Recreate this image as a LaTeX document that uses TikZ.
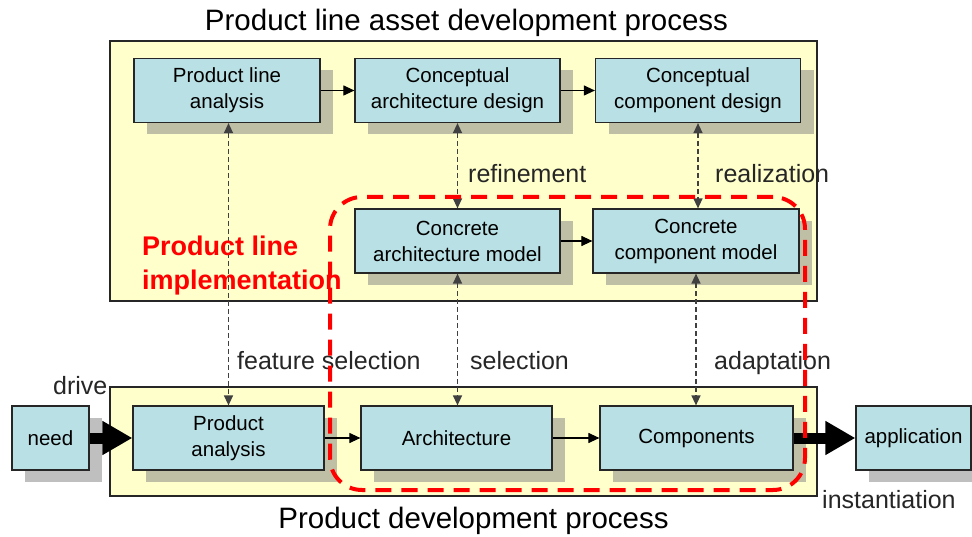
\documentclass[tikz,border=0pt]{standalone}
\usepackage{fontspec}
\setmainfont{Liberation Sans}
\usetikzlibrary{arrows.meta,shadows}
\definecolor{boxfill}{RGB}{185,224,228}
\definecolor{framefill}{RGB}{255,255,204}
\begin{document}
\begin{tikzpicture}[x=1pt,y=-1pt,
  frame/.style={draw=black!85, line width=1.2pt, fill=framefill, inner sep=0pt},
  box/.style={draw=black!85, line width=1.2pt, fill=boxfill, minimum height=64pt,
    align=center, inner sep=0pt, font=\fontsize{20.5}{26}\selectfont,
    drop shadow={shadow xshift=13pt, shadow yshift=-12pt, opacity=0.5, fill=black!50}},
  lbl/.style={font=\fontsize{25}{30}\selectfont, anchor=base west, inner sep=0pt, text=black!85},
  ttl/.style={font=\fontsize{29.5}{34}\selectfont, anchor=base, inner sep=0pt},
  thin/.style={-{Triangle[length=11pt,width=10pt]}, line width=1.1pt},
  dbl/.style={{Triangle[length=10pt,width=9pt]}-{Triangle[length=10pt,width=9pt]}, line width=1.3pt, dash pattern=on 5pt off 3pt, black!75},
  thick/.style={-{Triangle[length=30pt,width=32pt]}, line width=11pt},
  impl/.style={draw=red, line width=4pt, dash pattern=on 16pt off 10pt, rounded corners=32pt, inner sep=0pt}
]
\useasboundingbox (0,0) rectangle (972,537);

% frames
\node[frame, minimum width=707pt, minimum height=260pt] (topframe) at (463.5,171) {};
\node[frame, minimum width=707pt, minimum height=109pt] (botframe) at (463.5,441.5) {};

% titles
\node[ttl] (t1) at (466.5,31) {Product line asset development process};
\node[ttl] (t2) at (473.5,528) {Product development process};

% boxes top
\node[box, minimum width=186pt] (PLA) at (227,90.5) {Product line\\analysis};
\node[box, minimum width=205pt] (CAD) at (457.5,90.5) {Conceptual\\architecture design};
\node[box, minimum width=205pt] (CCD) at (698,90.5) {Conceptual\\component design};
\node[box, minimum width=205pt] (CAM) at (457.5,241) {Concrete\\architecture model};
\node[box, minimum width=206pt] (CCM) at (696,241) {Concrete\\component model};

% boxes bottom
\node[box, minimum width=77pt] (need) at (50.5,438) {need};
\node[box, minimum width=191pt] (PA) at (228.5,438) {Product\\analysis};
\node[box, minimum width=191pt] (Arch) at (456.5,438) {Architecture};
\node[box, minimum width=193pt] (Comp) at (696.5,438) {Components};
\node[box, minimum width=115pt] (app) at (913.5,438) {application};

% solid arrows
\draw[thin] (PLA.east) -- (CAD.west);
\draw[thin] (CAD.east) -- (CCD.west);
\draw[thin] (CAM.east) -- (CCM.west);
\draw[thin] (PA.east) -- (Arch.west);
\draw[thin] (Arch.east) -- (Comp.west);
\draw[thick] (need.east) -- (PA.west);
\draw[thick] (Comp.east) -- (app.west);

% dashed double arrows
\draw[dbl] (PA.north |- PLA.south) -- (PA.north);
\draw[dbl] (CAD.south) -- (CAD.south |- CAM.north);
\draw[dbl] (CCD.south) -- (CCD.south |- CCM.north);
\draw[dbl] (CAM.south) -- (CAM.south |- Arch.north);
\draw[dbl] (CCM.south) -- (CCM.south |- Comp.north);

% labels
\node[lbl] (refinement) at (468,183) {refinement};
\node[lbl] (realization) at (715,183) {realization};
\node[lbl] (featsel) at (237,370) {feature selection};
\node[lbl] (selection) at (470,370) {selection};
\node[lbl] (adaptation) at (714,370) {adaptation};
\node[lbl] (drive) at (53,394) {drive};
\node[lbl] (inst) at (822,508) {instantiation};

% product line implementation
\node[anchor=north west, inner sep=0pt, align=left, text=red,
  font=\bfseries\fontsize{27}{34}\selectfont] (impllbl) at (142,236) {Product line\\implementation};
\node[impl, minimum width=475pt, minimum height=293pt] (implarea) at (567.5,343.5) {};
\end{tikzpicture}
\end{document}
